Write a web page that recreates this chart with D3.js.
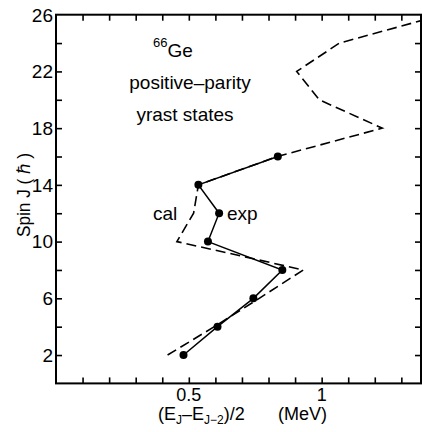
<!DOCTYPE html>
<html>
<head>
<meta charset="utf-8">
<script src="https://d3js.org/d3.v7.min.js"></script>
<style>
body { margin: 0; background: #fff; }
svg { display: block; }
text { font-family: "Liberation Sans", Arial, Helvetica, sans-serif; fill: #000; }
</style>
</head>
<body>
<div id="chart"></div>
<script>
let wSvg = 422; let hSvg = 432;
let padL = 56, padR = 421, padT = 14.7, padB = 383.4;

// spin values
const spins = [2, 4, 6, 8, 10, 12, 14, 16];
const expVals = [0.480, 0.608, 0.743, 0.852, 0.572, 0.614, 0.536, 0.835];
const calSpins = [2, 4, 6, 8, 10, 12, 14, 16, 18, 20, 22, 24, 26];
const calVals = [0.420, 0.596, 0.765, 0.931, 0.455, 0.518, 0.536, 0.833, 1.228, 0.991, 0.906, 1.067, 1.456];
const yTickLabels = [2, 6, 10, 14, 18, 22, 26];
const xTickLabels = [0.5, 1];

const svg = d3.select("#chart")
    .append("svg")
    .attr("width", wSvg)
    .attr("height", hSvg);

const xScale = d3.scaleLinear().domain([0, 1.374]).range([padL, padR]);
const yScale = d3.scaleLinear().domain([0, 26]).range([padB, padT]);

svg.append("clipPath").attr("id", "clip")
    .append("rect")
    .attr("x", padL).attr("y", padT)
    .attr("width", padR - padL).attr("height", padB - padT);

// axes, ticks inward on all four sides
const xTicks = d3.range(1, 14).map(i => i / 10);
const yTicks = d3.range(2, 26, 2);
const tickLen = 6;

svg.append("g").attr("transform", `translate(0,${padB})`)
    .call(d3.axisBottom(xScale).tickValues(xTicks).tickSizeInner(-tickLen).tickSizeOuter(0).tickFormat(""))
    .call(g => g.select(".domain").remove());
svg.append("g").attr("transform", `translate(0,${padT})`)
    .call(d3.axisTop(xScale).tickValues(xTicks).tickSizeInner(-tickLen).tickSizeOuter(0).tickFormat(""))
    .call(g => g.select(".domain").remove());
svg.append("g").attr("transform", `translate(${padL},0)`)
    .call(d3.axisLeft(yScale).tickValues(yTicks).tickSizeInner(-tickLen).tickSizeOuter(0).tickFormat(""))
    .call(g => g.select(".domain").remove());
svg.append("g").attr("transform", `translate(${padR},0)`)
    .call(d3.axisRight(yScale).tickValues(yTicks).tickSizeInner(-tickLen).tickSizeOuter(0).tickFormat(""))
    .call(g => g.select(".domain").remove());
svg.selectAll(".tick line").attr("stroke", "#000").attr("stroke-width", 1.6);

svg.append("rect")
    .attr("x", padL).attr("y", padT)
    .attr("width", padR - padL).attr("height", padB - padT)
    .attr("fill", "none").attr("stroke", "#000").attr("stroke-width", 2);

// tick labels
svg.append("g").selectAll("text")
    .data(yTickLabels)
    .enter().append("text")
    .attr("x", padL - 3)
    .attr("y", d => yScale(d))
    .attr("dy", "0.36em")
    .attr("text-anchor", "end")
    .style("font-size", "19px")
    .text(d => d);

svg.append("g").selectAll("text")
    .data(xTickLabels)
    .enter().append("text")
    .attr("x", d => xScale(d))
    .attr("y", 401)
    .attr("text-anchor", "middle")
    .style("font-size", "18px")
    .text(d => d);

// axis titles
svg.append("text")
    .attr("transform", "translate(30,195) rotate(-90)")
    .attr("text-anchor", "middle")
    .attr("textLength", 84)
    .attr("lengthAdjust", "spacingAndGlyphs")
    .style("font-size", "18px")
    .text("Spin J ( \u210F )");

const xt = svg.append("text")
    .attr("x", 158).attr("y", 420)
    .style("font-size", "18px");
xt.append("tspan").text("(E");
xt.append("tspan").attr("dy", 4).style("font-size", "12px").text("J");
xt.append("tspan").attr("dy", -4).text("\u2013E");
xt.append("tspan").attr("dy", 4).style("font-size", "12px").text("J\u22122");
xt.append("tspan").attr("dy", -4).text(")/2");
svg.append("text").attr("x", 278).attr("y", 420).style("font-size", "18px").text("(MeV)");

// annotations
const ge = svg.append("text").attr("x", 153).attr("y", 57).style("font-size", "19px");
ge.append("tspan").attr("dy", -10).style("font-size", "13px").text("66");
ge.append("tspan").attr("dy", 10).text("Ge");
svg.append("text").attr("x", 190).attr("y", 89).attr("text-anchor", "middle").style("font-size", "19px").text("positive\u2013parity");
svg.append("text").attr("x", 185).attr("y", 121).attr("text-anchor", "middle").style("font-size", "19px").text("yrast states");
svg.append("text").attr("x", 153).attr("y", 220).style("font-size", "19px").text("cal");
svg.append("text").attr("x", 227).attr("y", 220).style("font-size", "19px").text("exp");

// lines
const calData = calSpins.map((s, i) => ({ j: s, e: calVals[i] }));
const expData = spins.map((s, i) => ({ j: s, e: expVals[i] }));
const line = d3.line().x(d => xScale(d.e)).y(d => yScale(d.j));

svg.append("path")
    .datum(calData)
    .attr("clip-path", "url(#clip)")
    .attr("fill", "none")
    .attr("stroke", "#000")
    .attr("stroke-width", 1.6)
    .attr("stroke-dasharray", "10,5")
    .attr("d", line);

svg.append("path")
    .datum(expData)
    .attr("fill", "none")
    .attr("stroke", "#000")
    .attr("stroke-width", 1.5)
    .attr("d", line);

svg.append("g").selectAll("circle")
    .data(expData)
    .enter().append("circle")
    .attr("cx", d => xScale(d.e))
    .attr("cy", d => yScale(d.j))
    .attr("r", 4)
    .attr("fill", "#000");
</script>
</body>
</html>
